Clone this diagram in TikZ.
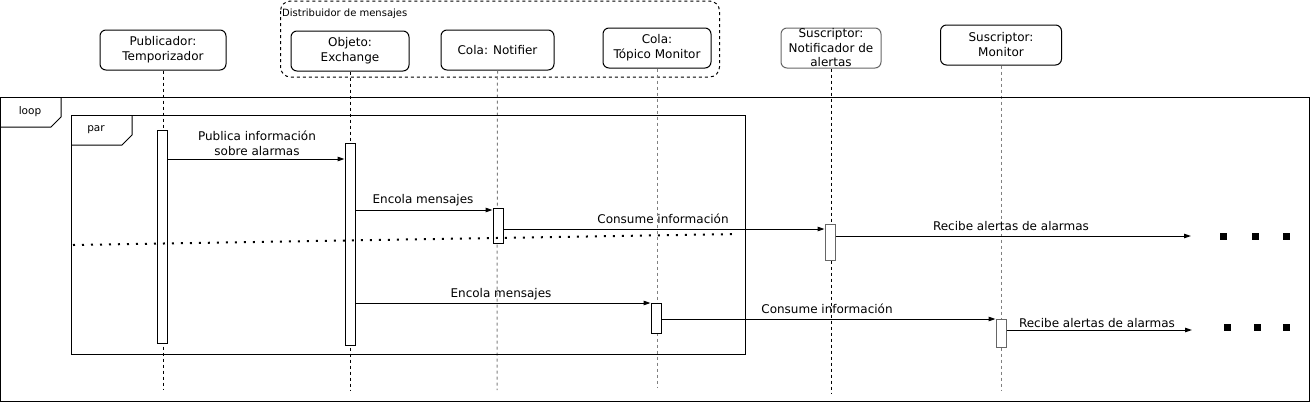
\documentclass[tikz,border=0pt]{standalone}
\usepackage{fontspec}
\setmainfont{DejaVu Sans}
\usetikzlibrary{arrows.meta}
\begin{document}
\begin{tikzpicture}[x=1pt,y=-1pt,
  head/.style={draw=black,line width=1pt,rounded corners=6pt,minimum height=40pt,align=center,inner sep=0pt,font=\fontsize{12}{15}\selectfont},
  life/.style={line width=1pt,dash pattern=on 3pt off 3pt},
  act/.style={draw=black,fill=white,line width=1pt,minimum width=10pt,inner sep=0pt},
  msg/.style={line width=1pt,-{Triangle[length=7pt,width=4.5pt]}},
  lbl/.style={font=\fontsize{12}{15}\selectfont,inner sep=0pt,align=center},
  frame/.style={draw=black,line width=1pt},
  tag/.style={font=\fontsize{10.5}{12}\selectfont,inner sep=0pt},
  dotsq/.style={fill=black,minimum size=7pt,inner sep=0pt}]
\useasboundingbox (0,0) rectangle (1310,402);
% group
\draw[line width=1pt,dash pattern=on 3pt off 3pt,rounded corners=10pt] (280.5,1) rectangle (719.5,77);
\node[anchor=west,font=\fontsize{10}{12}\selectfont,inner sep=0pt] (gl) at (282,14) {Distribuidor de mensajes};
% heads
\node[head,minimum width=126pt] (h1) at (163,50) {Publicador:\\Temporizador};
\node[head,minimum width=118pt] (h2) at (350,51) {Objeto:\\Exchange};
\node[head,minimum width=113pt] (h3) at (497.5,50) {Cola: Notifier};
\node[head,minimum width=108pt] (h4) at (657,48) {Cola:\\Tópico Monitor};
\node[head,minimum width=100pt,draw=black!60] (h5) at (831,48) {};
\node[align=center,font=\fontsize{12}{14.5}\selectfont,inner sep=0pt] (h5t) at (831,48) {Suscriptor:\\Notificador de\\alertas};
\node[head,minimum width=121pt] (h6) at (1001,45) {Suscriptor:\\Monitor};
% lifeline ends
\coordinate (e1) at (163,390);
\coordinate (e2) at (350,391);
\coordinate (e3) at (497,390);
\coordinate (e4) at (657,387);
\coordinate (e5) at (831,393);
\coordinate (e6) at (1001,390);
\draw[life] (h1.south) -- (e1);
\draw[life] (h2.south) -- (e2);
\draw[life,gray] (h3.south) -- (e3);
\draw[life,gray] (h4.south) -- (e4);
\draw[life] (h5.south) -- (e5);
\draw[life,gray] (h6.south) -- (e6);
% loop frame
\draw[frame] (0.5,97.5) rectangle (1309.5,401.5);
\draw[frame] (0.5,127) -- (51,127) -- (61,117) -- (61,97.5);
\node[tag] (tl) at (30,112) {loop};
% par frame
\draw[frame] (71.5,115.5) rectangle (745.5,354.5);
\draw[frame] (71.5,145) -- (122,145) -- (132,135) -- (132,115.5);
\node[tag] (tp) at (96,130) {par};
% activations
\node[act,minimum height=213pt] (a1) at (162,236.5) {};
\node[act,minimum height=202pt] (a2) at (350,244) {};
\node[act,minimum height=35pt] (a3) at (498,225.5) {};
\node[act,minimum height=30pt] (a4) at (656,318) {};
\node[act,minimum height=36pt,draw=black!60] (a5) at (830,242) {};
\node[act,minimum height=28pt,draw=black!60] (a6) at (1001,333) {};
% dotted separator
\coordinate (d1) at (73,245);
\coordinate (d2) at (738,234);
\draw[line width=2pt,dash pattern=on 2pt off 7pt] (d1) -- (d2);
% end coordinates for open messages
\coordinate (x1) at (1191,236);
\coordinate (x2) at (1192,330);
% messages
\draw[msg] (a1.east |- 0,159) -- (a2.west |- 0,159);
\node[lbl] (l1) at (257,143) {Publica información\\sobre alarmas};
\draw[msg] (a2.east |- 0,210) -- (a3.west |- 0,210);
\node[lbl] (l2) at (423,200) {Encola mensajes};
\draw[msg] (a3.east |- 0,229) -- (a5.west |- 0,229);
\node[lbl] (l3) at (663,219) {Consume información};
\draw[msg] (a5.east |- 0,236) -- (x1);
\node[lbl] (l4) at (1011,226) {Recibe alertas de alarmas};
\draw[msg] (a2.east |- 0,303) -- (a4.west |- 0,303);
\node[lbl] (l5) at (501,294) {Encola mensajes};
\draw[msg] (a4.east |- 0,319) -- (a6.west |- 0,319);
\node[lbl] (l6) at (827,309) {Consume información};
\draw[msg] (a6.east |- 0,330) -- (x2);
\node[lbl] (l7) at (1097,323) {Recibe alertas de alarmas};
% ellipsis
\node[dotsq] (s1) at (1223,236) {};
\node[dotsq] (s2) at (1255,236) {};
\node[dotsq] (s3) at (1286,236) {};
\node[dotsq] (s4) at (1227,327) {};
\node[dotsq] (s5) at (1257,327) {};
\node[dotsq] (s6) at (1286,327) {};
\end{tikzpicture}
\end{document}
